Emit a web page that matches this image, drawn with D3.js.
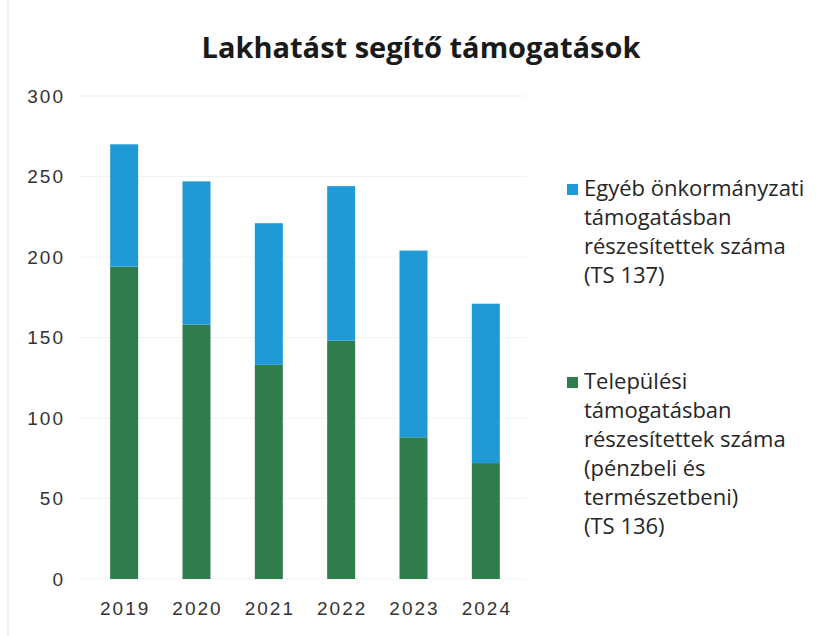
<!DOCTYPE html>
<html>
<head>
<meta charset="utf-8">
<script src="https://cdn.jsdelivr.net/npm/d3@7"></script>
<style>
  body { margin: 0; background: #fff; }
  svg { display: block; font-family: "Open Sans", "Noto Sans", sans-serif; }
</style>
</head>
<body>
<div id="chart"></div>
<script>
// adatok
const years = ["2019", "2020", "2021", "2022", "2023", "2024"];
const telepulesi = [194, 158, 133, 148, 88, 72];   // TS 136
const egyeb = [76, 89, 88, 96, 116, 99];          // TS 137
const yTicks = [0, 50, 100, 150, 200, 250, 300];

const seriesKeys = ["telepulesi", "egyeb"];
const seriesColors = { telepulesi: "#2f7d4c", egyeb: "#1f9ad6" };
const legendLines = {
    egyeb: ["Egyéb önkormányzati", "támogatásban", "részesítettek száma", "(TS 137)"],
    telepulesi: ["Települési", "támogatásban", "részesítettek száma", "(pénzbeli és", "természetbeni)", "(TS 136)"]
};

const width = 822, height = 636;
const margin = { left: 74, right: 286, top: 96, bottom: 57 };

const svg = d3.select("#chart").append("svg")
    .attr("width", width)
    .attr("height", height);

// halvány szkennelési szegély bal oldalon
svg.append("line")
    .attr("x1", 8).attr("x2", 8).attr("y1", 0).attr("y2", height)
    .attr("stroke", "#ececec").attr("stroke-width", 1.5);

// cím
svg.append("text")
    .attr("x", 421).attr("y", 58)
    .attr("text-anchor", "middle")
    .style("font-size", "29px")
    .style("font-weight", "700")
    .style("fill", "#1a1a1a")
    .text("Lakhatást segítő támogatások");

const table = years.map((y, i) => ({ year: y, telepulesi: telepulesi[i], egyeb: egyeb[i] }));
const stacked = d3.stack().keys(seriesKeys)(table);

const x = d3.scaleBand()
    .domain(years)
    .range([margin.left, width - margin.right])
    .paddingInner(0.613)
    .paddingOuter(0.5);

const y = d3.scaleLinear()
    .domain([0, 300])
    .range([height - margin.bottom, margin.top]);

// rácsvonalak
svg.append("g")
    .selectAll("line")
    .data(yTicks)
    .join("line")
    .attr("x1", margin.left + 6)
    .attr("x2", width - margin.right - 10)
    .attr("y1", d => y(d))
    .attr("y2", d => y(d))
    .attr("stroke", "#f2f2f2")
    .attr("stroke-width", 1);

// y tengely
const yAxis = svg.append("g")
    .attr("transform", `translate(${margin.left - 9},0)`)
    .call(d3.axisLeft(y).tickValues(yTicks).tickSize(0).tickPadding(0));
yAxis.select(".domain").remove();
yAxis.selectAll("text")
    .style("font-size", "19px")
    .style("letter-spacing", "2px")
    .style("fill", "#333")
    .style("font-family", "inherit");

// oszlopok
svg.append("g")
    .selectAll("g")
    .data(stacked)
    .join("g")
    .attr("fill", d => seriesColors[d.key])
    .selectAll("rect")
    .data(d => d)
    .join("rect")
    .attr("x", d => x(d.data.year))
    .attr("width", x.bandwidth())
    .attr("y", d => y(d[1]))
    .attr("height", d => y(d[0]) - y(d[1]));

// x tengely
const xAxis = svg.append("g")
    .attr("transform", `translate(1,${height - margin.bottom + 15})`)
    .call(d3.axisBottom(x).tickSize(0).tickPadding(8));
xAxis.select(".domain").remove();
xAxis.selectAll("text")
    .style("font-size", "19px")
    .style("letter-spacing", "2px")
    .style("fill", "#333")
    .style("font-family", "inherit");

// jelmagyarázat
const legendItems = [
    { key: "egyeb", top: 188 },
    { key: "telepulesi", top: 381 }
];
const lineH = 29;
const legend = svg.append("g");
legendItems.forEach(item => {
    legend.append("rect")
        .attr("x", 567).attr("y", item.top - 4)
        .attr("width", 11).attr("height", 11)
        .attr("fill", seriesColors[item.key]);
    const t = legend.append("text")
        .style("font-size", "22px")
        .style("fill", "#262626");
    legendLines[item.key].forEach((line, i) => {
        t.append("tspan")
            .attr("x", 584)
            .attr("y", item.top + i * lineH)
            .attr("dy", "0.35em")
            .text(line);
    });
});
</script>
</body>
</html>
